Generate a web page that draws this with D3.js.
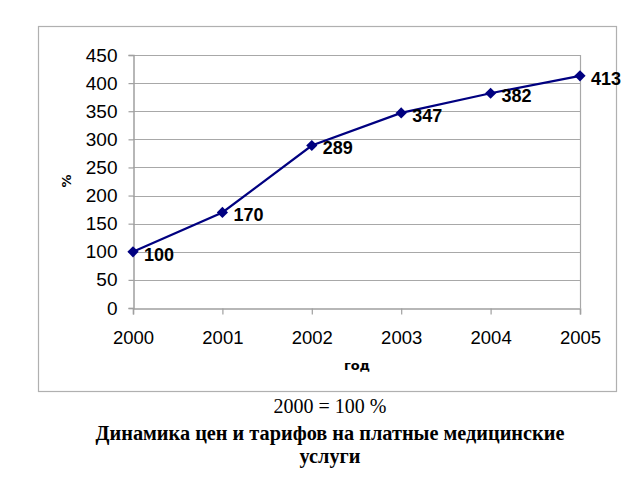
<!DOCTYPE html>
<html><head><meta charset="utf-8">
<script src="https://cdn.jsdelivr.net/npm/d3@7"></script>
<style>body{margin:0;background:#fff;} svg{display:block;}</style>
</head><body>
<script>
const years = ["2000","2001","2002","2003","2004","2005"];
const values = [100,170,289,347,382,413];
const yTicks = [0,50,100,150,200,250,300,350,400,450];
const yLabel = "%";
const xLabel = "год";
const note = "2000 = 100 %";
const titleLines = ["Динамика цен и тарифов на платные медицинские","услуги"];

const W=640,H=480;
const svg=d3.select("body").append("svg").attr("width",W).attr("height",H);
svg.append("rect").attr("width",W).attr("height",H).attr("fill","#fff");

// outer chart frame
svg.append("rect").attr("x",38.5).attr("y",26.5).attr("width",578).attr("height",365)
  .attr("fill","#fff").attr("stroke","#b0b0b0").attr("stroke-width",1.2);

const L=133,R=580,T=55,B=308;
const x=d3.scalePoint().domain(years).range([L,R]);
const y=d3.scaleLinear().domain([0,450]).range([B,T]);

// gridlines
svg.append("g").selectAll("line").data(yTicks.slice(1)).join("line")
  .attr("x1",L).attr("x2",R).attr("y1",d=>Math.round(y(d))+0.5).attr("y2",d=>Math.round(y(d))+0.5)
  .attr("stroke","#a8a8a8").attr("stroke-width",1.2);
// right border
svg.append("line").attr("x1",R+0.5).attr("x2",R+0.5).attr("y1",T).attr("y2",B)
  .attr("stroke","#a8a8a8").attr("stroke-width",1.2);

// y axis
const yAxis=d3.axisLeft(y).tickValues(yTicks).tickSize(5).tickPadding(10);
const gy=svg.append("g").attr("transform",`translate(${L+0.5},0)`).call(yAxis);
gy.select(".domain").attr("stroke","#a0a0a0").attr("stroke-width",1.5);
gy.selectAll(".tick line").attr("stroke","#a0a0a0").attr("stroke-width",1.2);
gy.selectAll(".tick text").attr("font-family","Liberation Sans, Arial, sans-serif")
  .attr("font-size",19).attr("fill","#000").attr("x",-16);

// x axis
const xAxis=d3.axisBottom(x).tickSize(6).tickPadding(16);
const gx=svg.append("g").attr("transform",`translate(0,${B+0.5})`).call(xAxis);
gx.select(".domain").attr("stroke","#a0a0a0").attr("stroke-width",1.5);
gx.selectAll(".tick line").attr("stroke","#a0a0a0").attr("stroke-width",1.2);
gx.selectAll(".tick text").attr("font-family","Liberation Sans, Arial, sans-serif")
  .attr("font-size",18.5).attr("fill","#000");

// axis titles
svg.append("text").attr("transform","translate(71,181) rotate(-90)")
  .attr("text-anchor","middle").attr("font-family","DejaVu Sans, Verdana, sans-serif")
  .attr("font-weight","bold").attr("font-size",13).text(yLabel);
svg.append("text").attr("x",357).attr("y",370).attr("text-anchor","middle")
  .attr("font-family","DejaVu Sans, Verdana, sans-serif")
  .attr("font-weight","bold").attr("font-size",13).text(xLabel);

// line
const pts=years.map((d,i)=>[x(d),y(values[i])]);
svg.append("path").attr("d",d3.line()(pts)).attr("fill","none")
  .attr("stroke","#000080").attr("stroke-width",2.2);
svg.append("g").selectAll("path").data(pts).join("path")
  .attr("d",d3.symbol(d3.symbolDiamond2,80)())
  .attr("transform",d=>`translate(${d[0]},${d[1]})`).attr("fill","#000080");

// data labels
svg.append("g").selectAll("text").data(years).join("text")
  .attr("x",(d,i)=>x(d)+11).attr("y",(d,i)=>y(values[i])+4)
  .attr("dominant-baseline","middle")
  .attr("font-family","Liberation Sans, Arial, sans-serif").attr("font-weight","bold")
  .attr("font-size",18).attr("fill","#000").text((d,i)=>values[i]);

// caption
svg.append("text").attr("x",330).attr("y",413).attr("text-anchor","middle")
  .attr("font-family","Liberation Serif, Times New Roman, serif").attr("font-size",20)
  .text(note);
titleLines.forEach((t,i)=>{
  svg.append("text").attr("x",330).attr("y",440+i*23).attr("text-anchor","middle")
    .attr("font-family","Liberation Serif, Times New Roman, serif").attr("font-weight","bold")
    .attr("font-size",20.3).text(t);
});
</script>
</body></html>
